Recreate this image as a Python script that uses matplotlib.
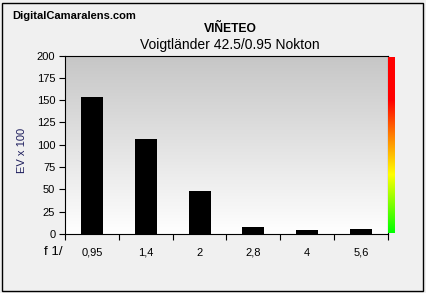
import numpy as np
import matplotlib
matplotlib.use('Agg')
import matplotlib.pyplot as plt
from matplotlib.colors import LinearSegmentedColormap
from matplotlib.patches import Rectangle

apertures = ['0,95', '1,4', '2', '2,8', '4', '5,6']
vignetting = [154, 107, 48, 8, 4.5, 5.5]
y_ticks = [0, 25, 50, 75, 100, 125, 150, 175, 200]

plt.rcParams['font.family'] = ['Liberation Sans', 'DejaVu Sans']

W, H = 426, 293
fig = plt.figure(figsize=(W / 100, H / 100), dpi=100, facecolor='#f0f0f0')

# outer frame
fig.patches.append(Rectangle((2 / W, 2 / H), 421 / W, 288 / H, transform=fig.transFigure,
                             fill=False, edgecolor='black', linewidth=1))

ax = fig.add_axes([65 / W, (H - 234) / H, 323 / W, 178.5 / H])

# grey-to-white background
grad = np.linspace(0, 1, 256).reshape(-1, 1)
bg = LinearSegmentedColormap.from_list('bg', ['#c6c6c6', '#ffffff'])
ax.imshow(grad, cmap=bg, extent=[0, 1, 0, 1], transform=ax.transAxes,
          aspect='auto', zorder=0)

x = np.arange(len(apertures))
ax.bar(x, vignetting, width=0.41, color='black', zorder=2)

ax.set_xlim(-0.5, len(apertures) - 0.5)
ax.set_ylim(0, 200)
ax.set_yticks(y_ticks)
ax.set_xticks(np.arange(len(apertures) + 1) - 0.5)
ax.set_xticklabels([])
ax.set_xticks(x, minor=True)
ax.set_xticklabels(apertures, minor=True)
ax.tick_params(axis='x', which='major', length=4, width=0.8, direction='out')
ax.tick_params(axis='x', which='minor', length=0, pad=10, labelsize=8)
ax.tick_params(axis='y', length=4, width=0.8, direction='out', labelsize=8, pad=3)
for s in ax.spines.values():
    s.set_linewidth(0.8)
ax.set_ylabel('EV x 100', fontsize=8, color='#1c1c5c')
ax.yaxis.set_label_coords(-0.119, 0.47)

# colour scale at right
cax = fig.add_axes([387.5 / W, (H - 233) / H, 6.5 / W, 176.5 / H])
cm = LinearSegmentedColormap.from_list('ev', [(0, '#00ff00'), (0.33, '#ffff00'),
                                              (0.55, '#ff8000'), (0.75, '#ff0000'),
                                              (1, '#ff0000')])
cax.imshow(grad[::-1], cmap=cm, aspect='auto', extent=[0, 1, 0, 1])
cax.axis('off')

fig.text(12 / W, 1 - 16 / H, 'DigitalCamaralens.com', fontsize=8, fontweight='bold', va='center')
fig.text(230 / W, 1 - 29 / H, 'VIÑETEO', fontsize=8.7, fontweight='bold', ha='center', va='center')
fig.text(230 / W, 1 - 45 / H, 'Voigtländer 42.5/0.95 Nokton', fontsize=10, ha='center', va='center')
fig.text(63 / W, 1 - 252 / H, 'f 1/', fontsize=9.5, ha='right', va='center')

fig.savefig('out.png', dpi=100, facecolor=fig.get_facecolor())
